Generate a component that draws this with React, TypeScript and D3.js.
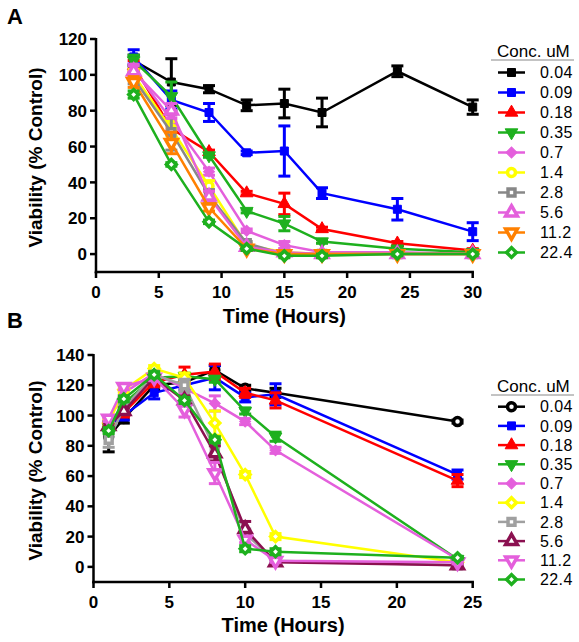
import React from "react";
import * as d3 from "d3";

// ---------- DATA ----------
const concLabels = ["0.04", "0.09", "0.18", "0.35", "0.7", "1.4", "2.8", "5.6", "11.2", "22.4"];

const timeA = [3, 6, 9, 12, 15, 18, 24, 30];
const valuesA = [
  [108, 96, 92, 83, 84, 79, 102, 82],
  [110, 86, 79, 56.5, 57.5, 34, 25, 12.5],
  [105, 70, 57, 34, 28, 14, 6, 2],
  [108, 88, 55, 24, 17, 7, 3, 1],
  [103, 75, 46, 13, 5, 1, 1, 0],
  [100, 70, 38, 5, 1, 0, 0, 0],
  [98, 68, 33, 6, 0, 0, 0, 0],
  [102, 80, 32, 4, 1, 0, 0, 0],
  [96, 62, 26, 3, 0, 0, 0, 0],
  [89, 50, 18, 3, -1, -1, 0, 0],
];
const errorsA = [
  [3, 13, 2, 3, 8, 8, 3, 4],
  [4, 5, 5, 1, 14, 3, 6, 5],
  [3, 2, 1, 1, 6, 1, 1, 1],
  [3, 8, 1, 1, 4, 1, 1, 1],
  [3, 5, 2, 1, 2, 1, 0, 0],
  [3, 4, 3, 1, 1, 0, 0, 0],
  [3, 10, 3, 1, 1, 0, 0, 0],
  [3, 4, 3, 1, 2, 0, 0, 0],
  [3, 6, 2, 1, 1, 0, 0, 0],
  [2, 1, 1, 1, 1, 1, 1, 1],
];
const colorsA = ["#000000", "#0000ff", "#ff0000", "#1eb01e", "#e45fdc", "#ffff00", "#888888", "#e45fdc", "#ff8000", "#1eb01e"];
const markersA = ["square", "square", "triUp", "triDown", "diamond", "circle", "square", "triUp", "triDown", "diamond"];
const openA = [false, false, false, false, false, true, true, true, true, true];

const timeB = [1, 2, 4, 6, 8, 10, 12, 24];
const valuesB = [
  [86, 98, 120, 122, 130, 118, 115, 96],
  [93, 100, 115, 120, 125, 112, 114, 61],
  [95, 102, 122, 127, 129, 115, 110, 57],
  [92, 108, 125, 126, 124, 103, 86, 5],
  [97, 115, 128, 118, 108, 96, 77, 5],
  [95, 117, 131, 125, 95, 61, 20, 3],
  [84, 105, 127, 120, 78, 22, 4, 1],
  [93, 103, 125, 110, 75, 25, 3, 1],
  [98, 119, 125, 104, 62, 18, 4, 3],
  [90, 111, 127, 110, 84, 12, 10, 6],
];
const errorsB = [
  [10, 3, 3, 3, 3, 2, 3, 1],
  [3, 3, 4, 3, 8, 3, 7, 3],
  [3, 3, 3, 5, 5, 3, 5, 4],
  [2, 2, 2, 2, 2, 2, 3, 1],
  [2, 2, 2, 3, 5, 2, 2, 1],
  [2, 2, 2, 3, 8, 2, 2, 1],
  [5, 2, 2, 4, 4, 3, 1, 1],
  [2, 2, 2, 3, 5, 5, 2, 1],
  [2, 2, 2, 5, 7, 2, 1, 1],
  [2, 2, 2, 2, 2, 2, 2, 1],
];
const colorsB = ["#000000", "#0000ff", "#ff0000", "#1eb01e", "#e45fdc", "#ffff00", "#a0a0a0", "#8b1050", "#e45fdc", "#1eb01e"];
const markersB = ["circle", "square", "triUp", "triDown", "diamond", "diamond", "square", "triUp", "triDown", "diamond"];
const openB = [true, false, false, false, false, true, true, true, true, true];

const xTicksA = [0, 5, 10, 15, 20, 25, 30];
const yTicksA = [0, 20, 40, 60, 80, 100, 120];
const xTicksB = [0, 5, 10, 15, 20, 25];
const yTicksB = [0, 20, 40, 60, 80, 100, 120, 140];

const FONT = "'Liberation Sans', Arial, sans-serif";

function markerPath(kind: string, open: boolean): { d: string; rot: number } {
  switch (kind) {
    case "square":
      return { d: d3.symbol().type(d3.symbolSquare).size(open ? 48 : 64)()!, rot: 0 };
    case "circle":
      return { d: d3.symbol().type(d3.symbolCircle).size(open ? 50 : 64)()!, rot: 0 };
    case "triUp":
      return { d: d3.symbol().type(d3.symbolTriangle).size(open ? 60 : 70)()!, rot: 0 };
    case "triDown":
      return { d: d3.symbol().type(d3.symbolTriangle).size(open ? 60 : 70)()!, rot: 180 };
    case "diamond":
    default:
      return { d: d3.symbol().type(d3.symbolSquare).size(open ? 48 : 60)()!, rot: 45 };
  }
}

function Marker({ x, y, kind, open, color }: { x: number; y: number; kind: string; open: boolean; color: string }) {
  const { d, rot } = markerPath(kind, open);
  return (
    <path
      d={d}
      transform={`translate(${x},${y}) rotate(${rot})`}
      fill={open ? "#ffffff" : color}
      stroke={color}
      strokeWidth={open ? 3.5 : 1}
    />
  );
}

interface PanelProps {
  label: string;
  labelY: number;
  times: number[];
  values: number[][];
  errors: number[][];
  colors: string[];
  markers: string[];
  opens: boolean[];
  xDomain: [number, number];
  yDomain: [number, number];
  xRange: [number, number];
  yRange: [number, number];
  xTicks: number[];
  yTicks: number[];
  xTitleY: number;
  legendTitleY: number;
  legendFirstY: number;
  legendStep: number;
}

function Panel(p: PanelProps) {
  const x = d3.scaleLinear().domain(p.xDomain).range(p.xRange);
  const y = d3.scaleLinear().domain(p.yDomain).range(p.yRange);
  const line = d3
    .line<[number, number]>()
    .x((d) => x(d[0]))
    .y((d) => y(d[1]));
  const x0 = p.xRange[0];
  const yBottom = p.yRange[0];
  const tick = 6;
  const capW = 6;
  return (
    <g>
      <text x={7} y={p.labelY} fontFamily={FONT} fontWeight="bold" fontSize={22}>
        {p.label}
      </text>
      {/* axes */}
      <line x1={x0} x2={x0} y1={p.yRange[1] - 1} y2={yBottom + 1.25} stroke="#000" strokeWidth={2.5} />
      <line x1={x0 - 1.25} x2={p.xRange[1] + 1.25} y1={yBottom} y2={yBottom} stroke="#000" strokeWidth={2.5} />
      {p.yTicks.map((t) => (
        <g key={"yt" + t}>
          <line x1={x0 - tick} x2={x0} y1={y(t)} y2={y(t)} stroke="#000" strokeWidth={2.5} />
          <text
            x={x0 - tick - 3}
            y={y(t)}
            dy="0.36em"
            textAnchor="end"
            fontFamily={FONT}
            fontWeight="bold"
            fontSize={17}
          >
            {t}
          </text>
        </g>
      ))}
      {p.xTicks.map((t) => (
        <g key={"xt" + t}>
          <line x1={x(t)} x2={x(t)} y1={yBottom} y2={yBottom + tick} stroke="#000" strokeWidth={2.5} />
          <text
            x={x(t)}
            y={yBottom + 26}
            textAnchor="middle"
            fontFamily={FONT}
            fontWeight="bold"
            fontSize={17}
          >
            {t}
          </text>
        </g>
      ))}
      <text
        x={(p.xRange[0] + p.xRange[1]) / 2}
        y={p.xTitleY}
        textAnchor="middle"
        fontFamily={FONT}
        fontWeight="bold"
        fontSize={20}
      >
        Time (Hours)
      </text>
      <text
        transform={`translate(42,${(p.yRange[0] + p.yRange[1]) / 2 + 2}) rotate(-90)`}
        textAnchor="middle"
        fontFamily={FONT}
        fontWeight="bold"
        fontSize={19}
      >
        Viability (% Control)
      </text>
      {/* series */}
      {p.values.map((vals, si) => {
        const pts: [number, number][] = p.times.map((t, i) => [t, vals[i]]);
        const c = p.colors[si];
        return (
          <g key={"s" + si}>
            <path d={line(pts)!} fill="none" stroke={c} strokeWidth={2.5} />
            {pts.map(([t, v], i) => {
              const e = p.errors[si][i];
              if (e <= 0) return null;
              const cx = x(t);
              return (
                <g key={"e" + i} stroke={c} strokeWidth={3}>
                  <line x1={cx} x2={cx} y1={y(v - e)} y2={y(v + e)} />
                  <line x1={cx - capW} x2={cx + capW} y1={y(v + e)} y2={y(v + e)} />
                  <line x1={cx - capW} x2={cx + capW} y1={y(v - e)} y2={y(v - e)} />
                </g>
              );
            })}
            {pts.map(([t, v], i) => (
              <Marker key={"m" + i} x={x(t)} y={y(v)} kind={p.markers[si]} open={p.opens[si]} color={c} />
            ))}
          </g>
        );
      })}
      {/* legend */}
      <text x={497} y={p.legendTitleY} fontFamily={FONT} fontSize={17}>
        Conc. uM
      </text>
      <line x1={491} x2={574} y1={p.legendTitleY + 3} y2={p.legendTitleY + 3} stroke="#888" strokeWidth={1} />
      {concLabels.map((lab, i) => {
        const ly = p.legendFirstY + i * p.legendStep;
        const c = p.colors[i];
        return (
          <g key={"l" + i}>
            <line x1={498} x2={525} y1={ly} y2={ly} stroke={c} strokeWidth={2.5} />
            <Marker x={511.5} y={ly} kind={p.markers[i]} open={p.opens[i]} color={c} />
            <text x={540} y={ly} dy="0.36em" fontFamily={FONT} fontSize={16} letterSpacing={0.4}>
              {lab}
            </text>
          </g>
        );
      })}
    </g>
  );
}

export default function App() {
  return (
    <svg width={579} height={642} style={{ position: "absolute", left: 0, top: 0, background: "#fff" }}>
      <rect width={579} height={642} fill="#fff" />
      <Panel
        label="A"
        labelY={24}
        times={timeA}
        values={valuesA}
        errors={errorsA}
        colors={colorsA}
        markers={markersA}
        opens={openA}
        xDomain={[0, 30]}
        yDomain={[-10, 120]}
        xRange={[96, 472.7]}
        yRange={[272, 39]}
        xTicks={xTicksA}
        yTicks={yTicksA}
        xTitleY={323}
        legendTitleY={57}
        legendFirstY={72.5}
        legendStep={20}
      />
      <Panel
        label="B"
        labelY={328}
        times={timeB}
        values={valuesB}
        errors={errorsB}
        colors={colorsB}
        markers={markersB}
        opens={openB}
        xDomain={[0, 25]}
        yDomain={[-10, 140]}
        xRange={[93.5, 472.7]}
        yRange={[582, 355]}
        xTicks={xTicksB}
        yTicks={yTicksB}
        xTitleY={632}
        legendTitleY={392}
        legendFirstY={406.7}
        legendStep={19.2}
      />
    </svg>
  );
}
